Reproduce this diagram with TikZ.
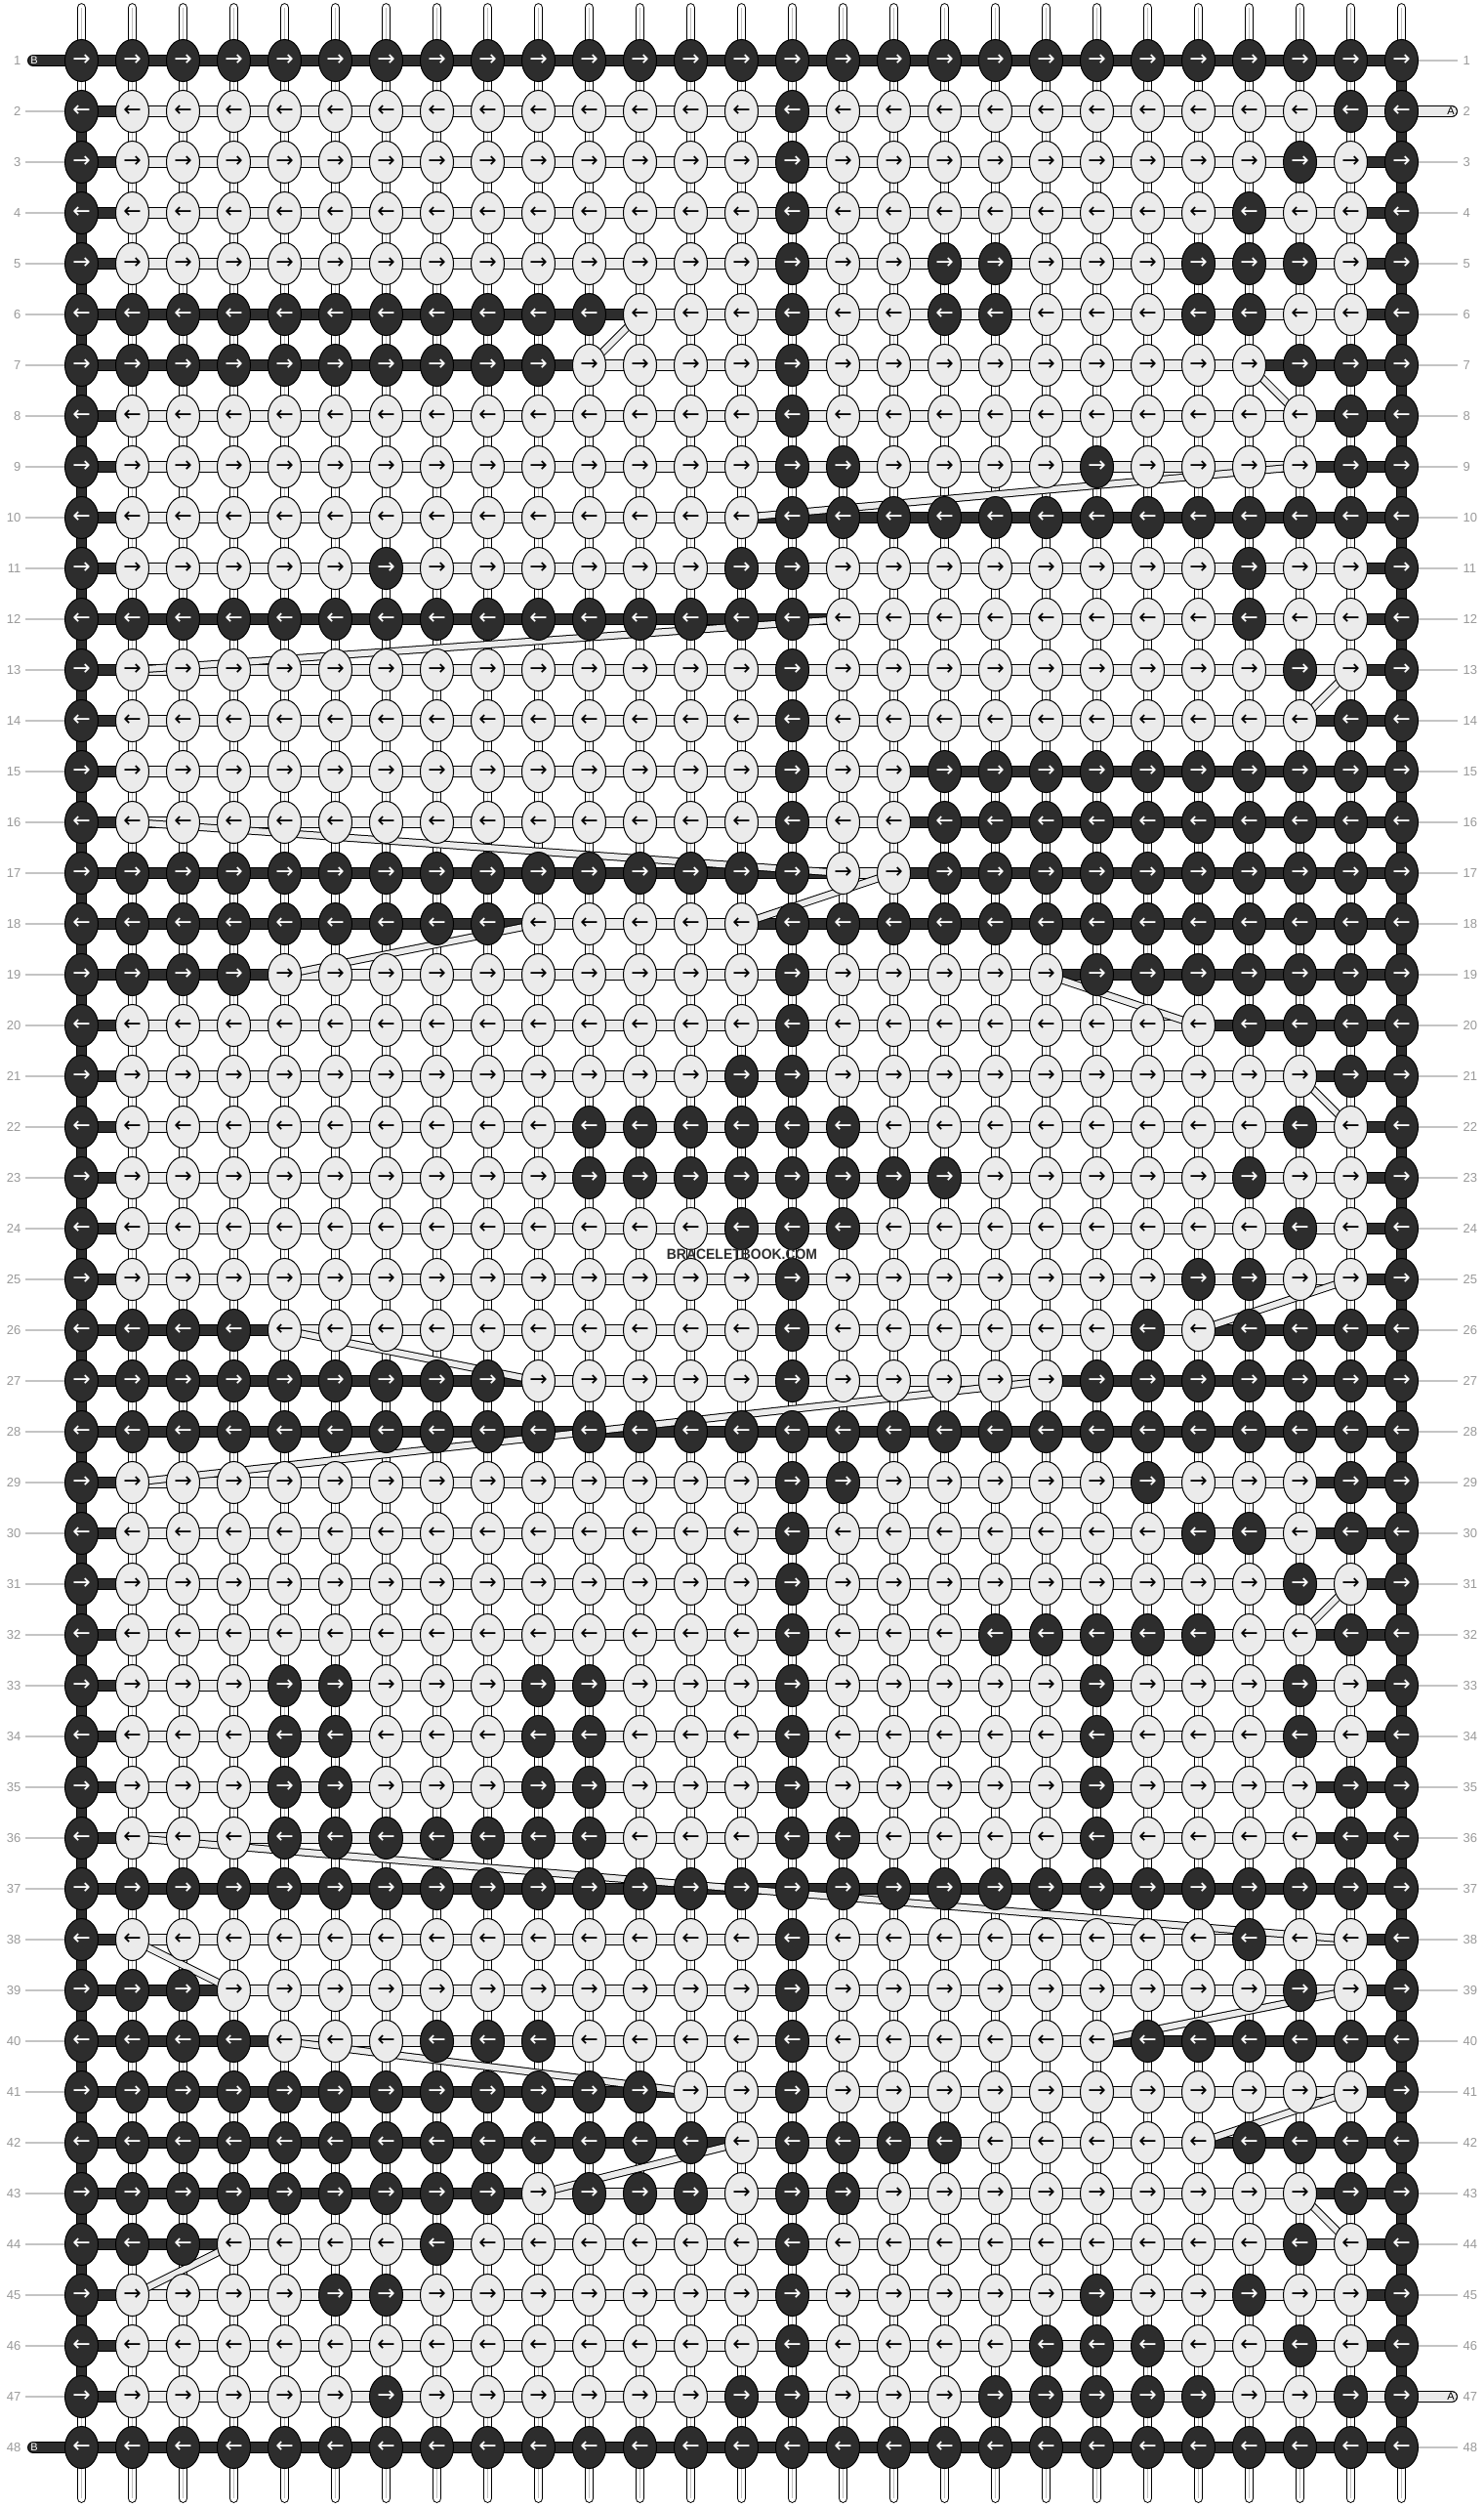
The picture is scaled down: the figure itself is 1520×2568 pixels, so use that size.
\documentclass[tikz,border=0pt]{standalone}
\usepackage{graphicx}
\usepackage{fontspec}
\setmainfont{Liberation Sans}
\newfontfamily\arrowfont{DejaVu Sans}
\usetikzlibrary{shapes.geometric}
\definecolor{knotdark}{HTML}{2D2D2D}
\definecolor{knotlight}{HTML}{EBEBEB}
\definecolor{numgray}{HTML}{9A9A9A}
\definecolor{guidegray}{HTML}{C4C4C4}
\tikzset{
  knot/.style={ellipse,draw=black,line width=0.3pt,minimum width=10.2pt,minimum height=12.9pt,inner sep=0pt,font=\arrowfont\fontsize{6.6}{6.6}\selectfont},
  darkknot/.style={knot,fill=knotdark,text=white},
  lightknot/.style={knot,fill=knotlight,text=black},
  basestring/.style={draw=black,line width=0.3pt,double=white,double distance=2.3pt,line cap=round},
  stringcore/.style={draw=black!25,line width=0.2pt},
  edgestring/.style={draw=black,line width=0.3pt,double=knotdark,double distance=2.7pt},
  lightband/.style={draw=black,line width=0.3pt,double=knotlight,double distance=3.0pt},
  darkband/.style={draw=black,line width=0.3pt,double=knotdark,double distance=3.0pt},
  carryband/.style={draw=black,line width=0.3pt,double=knotlight,double distance=1.8pt},
  rownum/.style={text=numgray,inner sep=0pt,font=\fontsize{3.9}{3.9}\selectfont},
  guide/.style={draw=guidegray,line width=0.45pt},
  endlabel/.style={inner sep=0pt,font=\fontsize{3.3}{3.3}\selectfont}
}
% row / left dark run / right dark run / dark knots
\def\knotrows{%
1/27/27/{1,2,...,27},
2/1/0/{1,15,26,27},
3/1/1/{1,15,25,27},
4/1/1/{1,15,24,27},
5/1/1/{1,15,18,19,23,24,25,27},
6/11/1/{1,2,...,11,15,18,19,23,24,27},
7/10/3/{1,2,...,10,15,25,26,27},
8/1/2/{1,15,26,27},
9/1/2/{1,15,16,21,26,27},
10/1/13/{1,15,16,...,27},
11/1/1/{1,7,14,15,24,27},
12/15/1/{1,2,...,15,24,27},
13/1/1/{1,15,25,27},
14/1/2/{1,15,26,27},
15/1/10/{1,15,18,19,...,27},
16/1/10/{1,15,18,19,...,27},
17/15/10/{1,2,...,15,18,19,...,27},
18/9/13/{1,2,...,9,15,16,...,27},
19/4/7/{1,2,3,4,15,21,22,...,27},
20/1/4/{1,15,24,25,26,27},
21/1/2/{1,14,15,26,27},
22/1/1/{1,11,12,13,14,15,16,25,27},
23/1/1/{1,11,12,...,18,24,27},
24/1/1/{1,14,15,16,25,27},
25/1/1/{1,15,23,24,27},
26/4/4/{1,2,3,4,15,22,24,25,26,27},
27/9/7/{1,2,...,9,15,21,22,...,27},
28/27/27/{1,2,...,27},
29/1/2/{1,15,16,22,26,27},
30/1/2/{1,15,23,24,26,27},
31/1/1/{1,15,25,27},
32/1/2/{1,15,19,20,21,22,23,26,27},
33/1/1/{1,5,6,10,11,15,21,25,27},
34/1/1/{1,5,6,10,11,15,21,25,27},
35/1/2/{1,5,6,10,11,15,21,26,27},
36/1/2/{1,5,6,...,11,15,16,21,26,27},
37/27/27/{1,2,...,27},
38/1/1/{1,15,24,27},
39/3/1/{1,2,3,15,25,27},
40/4/6/{1,2,3,4,8,9,10,15,22,23,...,27},
41/12/1/{1,2,...,12,15,27},
42/13/4/{1,2,...,13,15,16,17,18,24,25,26,27},
43/9/2/{1,2,...,9,11,12,13,15,16,26,27},
44/3/1/{1,2,3,8,15,25,27},
45/1/1/{1,6,7,15,21,24,27},
46/1/1/{1,15,20,21,22,25,27},
47/1/0/{1,7,14,15,19,20,21,22,23,26,27},
48/27/27/{1,2,...,27}%
}

\begin{document}
\begin{tikzpicture}[x=0.3pt,y=-0.3pt]
\fill[white] (0,0) rectangle (1520,2568);
\useasboundingbox (0,0) rectangle (1520,2568);

% grid points
\foreach \rw in {1,...,48}
  \foreach \c in {1,...,27}
    \coordinate (p\rw-\c) at ({83.5+52*(\c-1)},{62+52*(\rw-1)});
\foreach \c in {1,...,27} {
  \coordinate (top\c) at ({83.5+52*(\c-1)},8);
  \coordinate (bot\c) at ({83.5+52*(\c-1)},2558);
}
\coordinate (bend1) at (34,62);
\coordinate (bend48) at (34,2506);
\coordinate (aend2) at (1487,114);
\coordinate (aend47) at (1487,2454);

% base strings
\foreach \c in {1,...,27} {
  \draw[basestring] (top\c) -- (bot\c);
  \draw[stringcore] (top\c) -- (bot\c);
}
\draw[edgestring] (p2-1) -- (p47-1);
\draw[edgestring] (p1-27) -- (p48-27);

% guide lines
\foreach \rw in {2,...,47} {
  \coordinate (gl\rw) at (26,{62+52*(\rw-1)});
  \draw[guide] (gl\rw) -- (p\rw-1);
}
\foreach \rw in {1,3,4,...,46,48} {
  \coordinate (gr\rw) at (1493,{62+52*(\rw-1)});
  \draw[guide] (p\rw-27) -- (gr\rw);
}

% string ends
\draw[darkband,line cap=round] (bend1) -- (p1-1);
\draw[darkband,line cap=round] (bend48) -- (p48-1);
\draw[lightband,line cap=round] (p2-27) -- (aend2);
\draw[lightband,line cap=round] (p47-27) -- (aend47);

% rows
\foreach \rw/\lrun/\rrun/\darks in \knotrows {
  \draw[lightband] (p\rw-1) -- (p\rw-27);
  \ifnum\lrun<27
    \pgfmathtruncatemacro\lend{\lrun+1}
    \draw[darkband] (p\rw-1) -- (p\rw-\lend);
  \else
    \draw[darkband] (p\rw-1) -- (p\rw-27);
  \fi
  \ifnum\rrun>0 \ifnum\rrun<27
    \pgfmathtruncatemacro\rbeg{27-\rrun}
    \draw[darkband] (p\rw-\rbeg) -- (p\rw-27);
  \fi\fi
}

% carried strings
\foreach \ra/\ca/\rb/\cb in {6/12/7/11, 7/24/8/25, 9/25/10/14, 12/16/13/2,
    13/26/14/25, 16/2/17/16, 17/17/18/14, 18/10/19/5, 19/20/20/23,
    21/25/22/26, 25/26/26/23, 26/5/27/10, 27/20/29/2, 31/26/32/25,
    36/2/38/26, 38/2/39/4, 39/26/40/21, 40/5/41/13, 41/26/42/23,
    42/14/43/10, 43/25/44/26, 44/4/45/2}
  \draw[carryband] (p\ra-\ca) -- (p\rb-\cb);

% knots
\foreach \rw/\lrun/\rrun/\darks in \knotrows {
  \ifodd\rw \def\arr{→}\else \def\arr{←}\fi
  \foreach \c in {1,...,27} {
    \gdef\kshade{0}
    \foreach \d in \darks {\ifnum\d=\c \gdef\kshade{1}\fi}
    \ifnum\kshade=1
      \node[darkknot] (k\rw-\c) at (p\rw-\c) {\arr};
    \else
      \node[lightknot] (k\rw-\c) at (p\rw-\c) {\arr};
    \fi
  }
}

% labels
\node[endlabel,text=white] (lb1) at (35,62) {B};
\node[endlabel,text=white] (lb48) at (35,2506) {B};
\node[endlabel] (la2) at (1486,114) {A};
\node[endlabel] (la47) at (1486,2454) {A};
\foreach \rw in {1,...,48} {
  \node[rownum,anchor=east] (nl\rw) at (22,{62+52*(\rw-1)}) {\rw};
  \node[rownum,anchor=west] (nr\rw) at (1498,{62+52*(\rw-1)}) {\rw};
}
\node[text=black!82,inner sep=0pt,font=\bfseries\fontsize{4.5}{4.5}\selectfont] (mark) at (760,1284)
  {\scalebox{0.93}[1]{BRACELETBOOK.COM}};
\end{tikzpicture}
\end{document}
